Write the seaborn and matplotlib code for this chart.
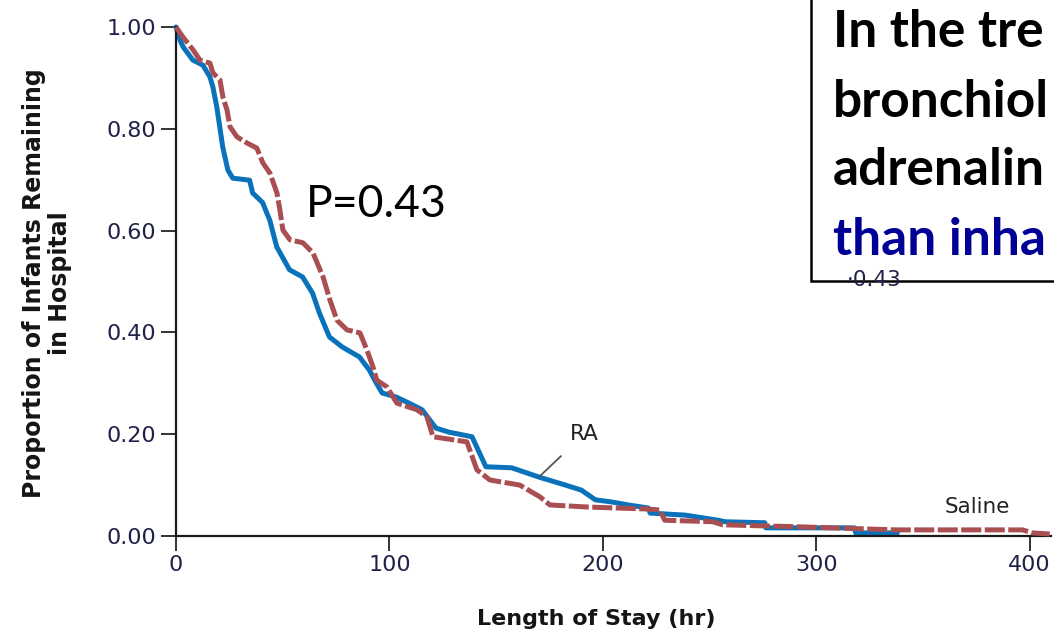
import numpy as np
import matplotlib
matplotlib.use("Agg")
import matplotlib.pyplot as plt
from matplotlib.patches import Rectangle
import seaborn as sns
import pandas as pd

# Kaplan-Meier style curves (hours, proportion remaining)
ra_hours = [0, 1.9, 3.3, 7.9, 12.6, 15.9, 17.3, 19.1, 20.5, 21.9, 24.3, 26.6, 34.5,
            35.9, 40.6, 42.5, 43.9, 47.2, 53.2, 59.3, 64.0, 67.2, 71.9, 78.0, 85.9,
            90.6, 93.8, 96.6, 103.2, 109.2, 115.3, 121.8, 127.9, 138.7, 145.2, 157.3,
            169.9, 182.5, 190.0, 196.5, 204.0, 211.9, 221.3, 222.2, 238.6, 254.0,
            257.2, 275.9, 276.4, 317.9, 318.5, 338.0]
ra_prop = [1.000, 0.974, 0.961, 0.935, 0.925, 0.902, 0.882, 0.843, 0.804, 0.764,
           0.719, 0.703, 0.699, 0.674, 0.655, 0.635, 0.621, 0.568, 0.523, 0.509,
           0.477, 0.438, 0.391, 0.371, 0.352, 0.326, 0.301, 0.281, 0.273, 0.261,
           0.248, 0.212, 0.204, 0.195, 0.136, 0.134, 0.116, 0.100, 0.090, 0.071,
           0.067, 0.061, 0.055, 0.045, 0.041, 0.031, 0.028, 0.026, 0.016, 0.016,
           0.006, 0.006]

saline_hours = [0, 3.3, 8.0, 11.2, 15.9, 17.3, 20.6, 22.0, 23.9, 25.3, 28.6, 33.3,
                37.9, 40.7, 44.0, 47.3, 48.7, 50.1, 53.4, 59.5, 64.2, 68.9, 72.1,
                75.4, 80.1, 86.2, 89.5, 92.3, 94.1, 98.8, 103.5, 112.9, 117.6, 120.4,
                136.3, 141.0, 147.1, 161.1, 170.5, 175.2, 192.5, 220.6, 226.7, 229.0,
                251.5, 256.2, 292.3, 337.7, 396.7, 401.4, 409.4]
saline_prop = [1.000, 0.980, 0.955, 0.935, 0.929, 0.910, 0.896, 0.862, 0.837, 0.804,
               0.784, 0.772, 0.762, 0.733, 0.713, 0.674, 0.640, 0.601, 0.582, 0.576,
               0.556, 0.509, 0.464, 0.424, 0.405, 0.399, 0.365, 0.332, 0.306, 0.293,
               0.261, 0.248, 0.234, 0.195, 0.185, 0.130, 0.110, 0.100, 0.077, 0.061,
               0.057, 0.053, 0.051, 0.031, 0.028, 0.022, 0.018, 0.012, 0.012, 0.006,
               0.004]

x_ticks = [0, 100, 200, 300, 400]
y_ticks = [0.0, 0.2, 0.4, 0.6, 0.8, 1.0]

# the slide's text box runs off the right edge; only these parts are visible
box_lines = ["In the tre", "bronchiol", "adrenalin", "than inha"]

df = pd.concat([
    pd.DataFrame({"hours": ra_hours, "prop": ra_prop, "group": "RA"}),
    pd.DataFrame({"hours": saline_hours, "prop": saline_prop, "group": "Saline"}),
])

sns.set_style("ticks")
plt.rcParams["font.family"] = ["DejaVu Sans"]

fig = plt.figure(figsize=(10.54, 6.35), dpi=100)
ax = fig.add_axes([176 / 1054, 99 / 635, 875 / 1054, 509 / 635])

sns.lineplot(data=df, x="hours", y="prop", hue="group", style="group",
             palette={"RA": "#0a72bb", "Saline": "#a94f52"},
             dashes={"RA": "", "Saline": (4, 0.7)},
             estimator=None, sort=False,
             linewidth=3.6, legend=False, ax=ax, clip_on=False)
# saline drawn on top like the reference
for line in ax.lines:
    if line.get_linestyle() != "-":
        line.set_zorder(3)

ax.set_xlim(0, 410)
ax.set_ylim(0, 1.0)
ax.set_xticks(x_ticks)
ax.set_yticks(y_ticks)
ax.set_yticklabels(["%.2f" % v for v in y_ticks])
ax.tick_params(axis="both", direction="out", length=11, width=1.3, color="#222222",
               labelsize=16, labelcolor="#1f2148", pad=3)
ax.set_xlabel("")
ax.set_ylabel("")
sns.despine(ax=ax)
for side in ["left", "bottom"]:
    ax.spines[side].set_linewidth(1.6)
    ax.spines[side].set_color("#1a1a1a")

# axis titles
fig.text(47 / 1054, 1 - 283 / 635, "Proportion of Infants Remaining\nin Hospital",
         rotation=90, ha="center", va="center", multialignment="center",
         fontsize=17, fontweight="bold", color="#151515", linespacing=1.1)
fig.text(596 / 1054, 1 - 619 / 635, "Length of Stay (hr)", ha="center", va="center",
         fontsize=16, fontweight="bold", color="#151515")

# curve labels
ax.annotate("RA", xy=(170.1, 0.116), xytext=(191.2, 0.200), ha="center", va="center",
            fontsize=15.5, color="#222222",
            arrowprops=dict(arrowstyle="-", color="#555555", lw=1.3,
                            shrinkA=9, shrinkB=0))
ax.text(375.4, 0.057, "Saline", ha="center", va="center", fontsize=15.5, color="#222222")

fig.text(306 / 1054, 1 - 217 / 635, "P=0.43", ha="left", va="baseline",
         fontsize=32, family="Lato", color="black")

# slide text box, cut off by the right edge of the slide
fig.patches.append(Rectangle((811 / 1054, 1 - 281 / 635), 0.4, 0.6,
                             transform=fig.transFigure, facecolor="white",
                             edgecolor="black", linewidth=1.8, zorder=5))
fig.text(847 / 1054, 1 - 280 / 635, "\u00b70.43", ha="left", va="center",
         fontsize=15.5, color="#1f2148", zorder=6)
baselines = [47, 117, 185, 255]
colors = ["black", "black", "black", "#000096"]
for txt, b, c in zip(box_lines, baselines, colors):
    fig.text(833 / 1054, 1 - b / 635, txt, ha="left", va="baseline",
             fontsize=37, fontweight="bold", family="Lato", color=c, zorder=7)

fig.savefig("out.png", dpi=100)
